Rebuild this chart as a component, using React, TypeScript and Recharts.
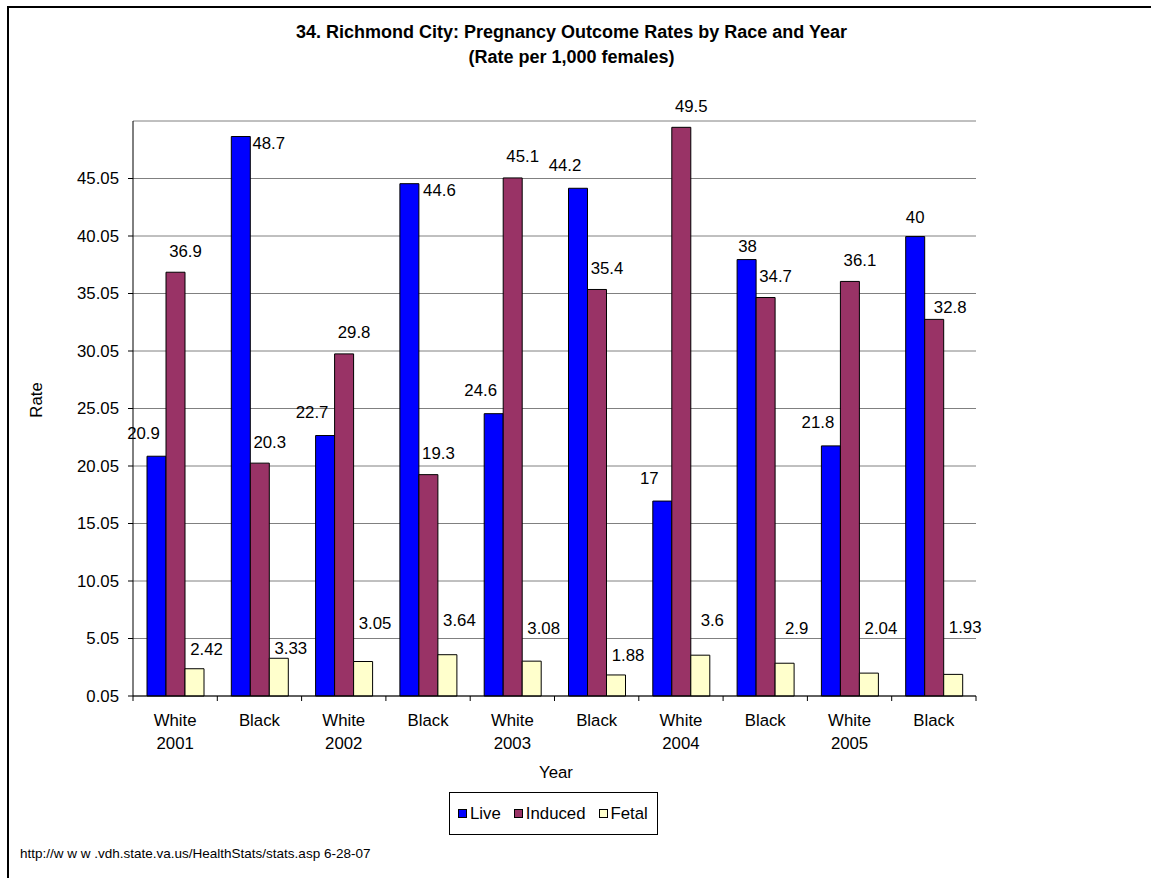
import React from 'react';
import { BarChart, Bar, XAxis, YAxis, CartesianGrid, LabelList } from 'recharts';

// ---- data ----
const raceLabels = ['White', 'Black', 'White', 'Black', 'White', 'Black', 'White', 'Black', 'White', 'Black'];
const yearLabels = ['2001', '', '2002', '', '2003', '', '2004', '', '2005', ''];
const liveRates = [20.9, 48.7, 22.7, 44.6, 24.6, 44.2, 17, 38, 21.8, 40];
const inducedRates = [36.9, 20.3, 29.8, 19.3, 45.1, 35.4, 49.5, 34.7, 36.1, 32.8];
const fetalRates = [2.42, 3.33, 3.05, 3.64, 3.08, 1.88, 3.6, 2.9, 2.04, 1.93];
const seriesNames = ['Live', 'Induced', 'Fetal'];
const yTicks = [0.05, 5.05, 10.05, 15.05, 20.05, 25.05, 30.05, 35.05, 40.05, 45.05];
const yDomain: [number, number] = [0.05, 50.05];

const data = raceLabels.map((race, i) => ({
  id: `${race}-${i}`,
  race,
  year: yearLabels[i],
  live: liveRates[i],
  induced: inducedRates[i],
  fetal: fetalRates[i],
}));

// ---- layout / style ----
const W = 1151;
const H = 878;
const PLOT_LEFT = 133;
const PLOT_RIGHT = 976;
const PLOT_TOP = 121;
const PLOT_BOTTOM = 696;
const BAND = (PLOT_RIGHT - PLOT_LEFT) / raceLabels.length;
const FONT = '"Liberation Sans", Arial, Helvetica, sans-serif';
const FS = 16.8;
const COLORS = ['#0000FF', '#993366', '#FFFFCC'];

// label placement nudges (style only): [dx, dy] relative to bar top centre
const liveNudge = (i: number): [number, number] => {
  if (i === 1) return [28, 7];
  if (i === 3) return [30, 7];
  if (i === 7) return [1, -13];
  if (i === 9) return [0, -19];
  return [-13, -23];
};
const inducedNudge = (i: number): [number, number] => {
  if (i === 9) return [16, -12];
  return [10, -21];
};
const fetalNudge = (i: number): [number, number] => {
  const dys = [-19, -10, -38, -34, -33, -19, -35, -35, -45, -47];
  return [12, dys[i] ?? -20];
};

const makeLabel = (nudge: (i: number) => [number, number]) => (props: any) => {
  const { x, y, width, value, index } = props;
  const [dx, dy] = nudge(index);
  return (
    <text
      x={Number(x) + Number(width) / 2 + dx}
      y={Number(y) + dy}
      textAnchor="middle"
      dominantBaseline="central"
      fontFamily={FONT}
      fontSize={FS}
      fill="#000"
    >
      {String(value)}
    </text>
  );
};

const CategoryTick = (props: any) => {
  const { x, y, index, payload } = props;
  const i = typeof index === 'number' ? index : payload?.index ?? 0;
  const half = BAND / 2;
  return (
    <g>
      <line x1={x - half} x2={x - half} y1={y} y2={y + 5} stroke="#000" />
      {i === raceLabels.length - 1 && (
        <line x1={x + half} x2={x + half} y1={y} y2={y + 5} stroke="#000" />
      )}
      <text x={x} y={y + 24} textAnchor="middle" dominantBaseline="central" fontFamily={FONT} fontSize={FS} fill="#000">
        {raceLabels[i]}
      </text>
      {yearLabels[i] && (
        <text x={x} y={y + 47} textAnchor="middle" dominantBaseline="central" fontFamily={FONT} fontSize={FS} fill="#000">
          {yearLabels[i]}
        </text>
      )}
    </g>
  );
};

export default function App() {
  const yAxisWidth = 70;
  const xAxisHeight = 60;
  return (
    <div
      style={{
        position: 'fixed',
        left: 0,
        top: 0,
        width: W,
        height: H,
        background: '#fff',
        overflow: 'hidden',
        fontFamily: FONT,
        color: '#000',
      }}
    >
      {/* outer frame */}
      <div
        style={{
          position: 'absolute',
          left: 7,
          top: 6,
          width: W + 50,
          height: H + 50,
          borderLeft: '2px solid #000',
          borderTop: '2px solid #000',
        }}
      />
      {/* title */}
      <div
        style={{
          position: 'absolute',
          left: 0,
          top: 20,
          width: 1143,
          textAlign: 'center',
          fontWeight: 'bold',
          fontSize: 18,
          lineHeight: '25px',
        }}
      >
        <div>34. Richmond City: Pregnancy Outcome Rates by Race and Year</div>
        <div>(Rate per 1,000 females)</div>
      </div>

      <div style={{ position: 'absolute', left: 0, top: 0 }}>
        <BarChart
          width={W}
          height={H}
          data={data}
          margin={{
            top: PLOT_TOP,
            right: W - PLOT_RIGHT,
            left: PLOT_LEFT - yAxisWidth,
            bottom: H - PLOT_BOTTOM - xAxisHeight,
          }}
          barGap={0}
        >
          <CartesianGrid vertical={false} stroke="#808080" strokeWidth={1} />
          <XAxis
            dataKey="id"
            interval={0}
            tickLine={false}
            tickSize={0}
            tickMargin={0}
            height={xAxisHeight}
            axisLine={{ stroke: '#000' }}
            tick={<CategoryTick />}
          />
          <YAxis
            type="number"
            domain={yDomain}
            ticks={yTicks}
            width={yAxisWidth}
            interval={0}
            tickFormatter={(v: number) => v.toFixed(2)}
            axisLine={{ stroke: '#000' }}
            tickLine={{ stroke: '#000' }}
            tickSize={5}
            tickMargin={9}
            tick={{ fill: '#000', fontSize: FS, fontFamily: FONT }}
          />
          <Bar dataKey="live" name={seriesNames[0]} fill={COLORS[0]} stroke="#000" strokeWidth={1} barSize={19} isAnimationActive={false}>
            <LabelList dataKey="live" content={makeLabel(liveNudge)} />
          </Bar>
          <Bar dataKey="induced" name={seriesNames[1]} fill={COLORS[1]} stroke="#000" strokeWidth={1} barSize={19} isAnimationActive={false}>
            <LabelList dataKey="induced" content={makeLabel(inducedNudge)} />
          </Bar>
          <Bar dataKey="fetal" name={seriesNames[2]} fill={COLORS[2]} stroke="#000" strokeWidth={1} barSize={19} isAnimationActive={false}>
            <LabelList dataKey="fetal" content={makeLabel(fetalNudge)} />
          </Bar>
        </BarChart>
      </div>

      {/* y axis title */}
      <div
        style={{
          position: 'absolute',
          left: 37 - 30,
          top: 400 - 10,
          width: 60,
          height: 20,
          lineHeight: '20px',
          textAlign: 'center',
          fontSize: FS,
          transform: 'rotate(-90deg)',
        }}
      >
        Rate
      </div>
      {/* x axis title */}
      <div
        style={{
          position: 'absolute',
          left: 556 - 40,
          top: 773 - 10,
          width: 80,
          height: 20,
          lineHeight: '20px',
          textAlign: 'center',
          fontSize: FS,
        }}
      >
        Year
      </div>

      {/* legend */}
      <div
        style={{
          position: 'absolute',
          left: 449,
          top: 792,
          width: 209,
          height: 43,
          boxSizing: 'border-box',
          border: '1px solid #000',
          display: 'flex',
          alignItems: 'center',
          justifyContent: 'flex-start',
          paddingLeft: 8,
          gap: 13,
          fontSize: FS,
        }}
      >
        {seriesNames.map((name, i) => (
          <div key={name} style={{ display: 'flex', alignItems: 'center' }}>
            <div
              style={{
                width: 9,
                height: 9,
                boxSizing: 'border-box',
                border: '1px solid #000',
                background: COLORS[i],
                marginRight: 3,
              }}
            />
            <span>{name}</span>
          </div>
        ))}
      </div>

      {/* source */}
      <div
        style={{
          position: 'absolute',
          left: 20,
          top: 854 - 8,
          height: 16,
          lineHeight: '16px',
          fontSize: 13.5,
          whiteSpace: 'pre',
        }}
      >
        http://w w w .vdh.state.va.us/HealthStats/stats.asp 6-28-07
      </div>
    </div>
  );
}
